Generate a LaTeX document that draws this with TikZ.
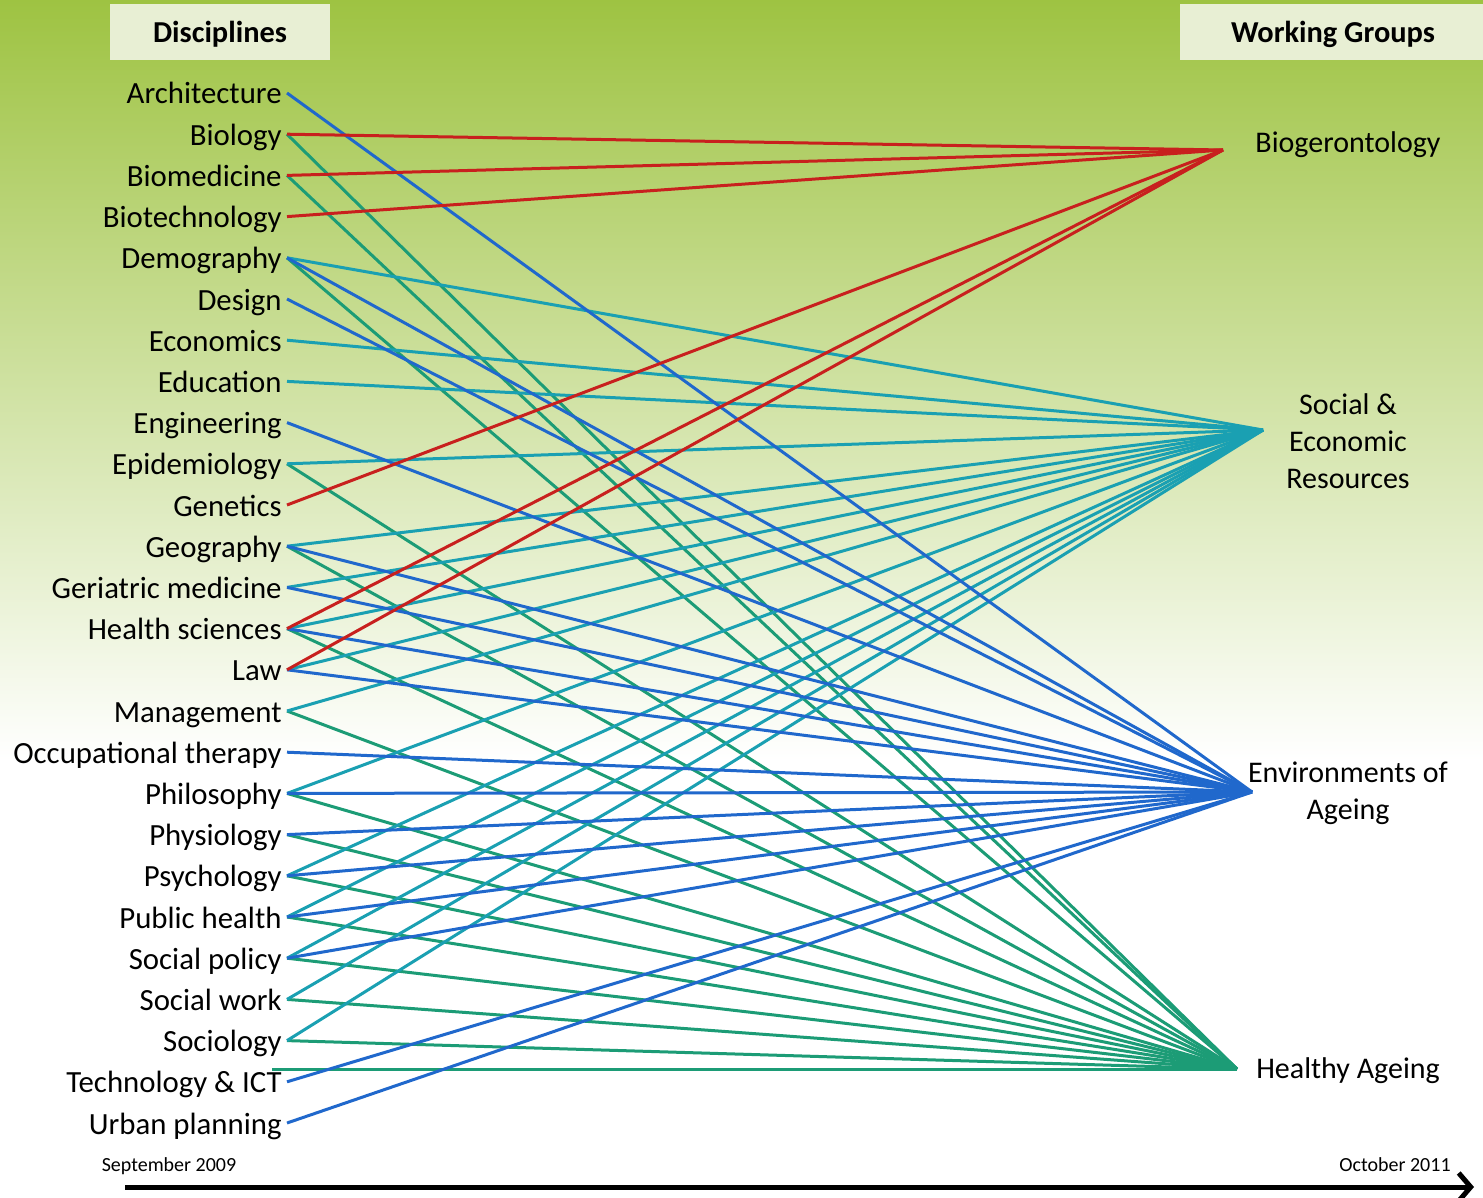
\documentclass[tikz,border=0pt]{standalone}
\usepackage{fontspec}
\setmainfont{Carlito}
\usetikzlibrary{arrows.meta}
\definecolor{cRed}{RGB}{200,32,30}
\definecolor{cBlue}{RGB}{32,104,204}
\definecolor{cTeal}{RGB}{26,160,178}
\definecolor{cGreen}{RGB}{28,156,118}
\definecolor{bgTop}{RGB}{158,195,66}
\definecolor{hdrFill}{RGB}{232,239,212}
\begin{document}
\begin{tikzpicture}[x=0.5pt,y=-0.5pt,
  disc/.style={anchor=east, inner xsep=2.5pt, inner ysep=0pt, text height=14pt, text depth=3pt, font=\fontsize{15.4}{18}\selectfont},
  grp/.style={align=center, font=\fontsize{15}{18.5}\selectfont},
  hdr/.style={fill=hdrFill, minimum height=28pt, font=\bfseries\fontsize{15.2}{18}\selectfont},
  link/.style={line width=1.5pt},
  redl/.style={link, draw=cRed},
  bluel/.style={link, draw=cBlue},
  teall/.style={link, draw=cTeal},
  greenl/.style={link, draw=cGreen},
  datelbl/.style={font=\fontsize{10}{12}\selectfont, anchor=base}]
\useasboundingbox (0,0) rectangle (1483,1198);
\shade[top color=bgTop, bottom color=white] (0,0) rectangle (1483,760);
\fill[white] (0,760) rectangle (1483,1198);
% headers
\fill[hdrFill] (110,4) rectangle (330,60);
\fill[hdrFill] (1180,4) rectangle (1483,60);
\node[font=\bfseries\fontsize{15.2}{18}\selectfont] (hDisc) at (220,34) {Disciplines};
\node[font=\bfseries\fontsize{15.2}{18}\selectfont] (hWork) at (1333,34) {Working Groups};
% disciplines
\foreach \n/\t [count=\i] in {arch/Architecture, biol/Biology, biom/Biomedicine, biot/Biotechnology, demo/Demography, desi/Design, econ/Economics, educ/Education, engi/Engineering, epid/Epidemiology, gene/Genetics, geog/Geography, geri/Geriatric medicine, heal/Health sciences, law/Law, mana/Management, occu/Occupational therapy, phil/Philosophy, phys/Physiology, psyc/Psychology, publ/Public health, spol/Social policy, swor/Social work, soci/Sociology, tech/Technology \& ICT, urba/Urban planning}
  \node[disc] (\n) at (287,{93+41.2*(\i-1)}) {\t};
% working groups
\node[grp] (gBio) at (1348,145) {Biogerontology};
\node[grp] (gSE) at (1348,441) {Social \&\\Economic\\Resources};
\node[grp] (gEnv) at (1348,793) {Environments of\\Ageing};
\node[grp] (gHA) at (1348,1071) {Healthy Ageing};
\coordinate (wBio) at (1223,150);
\coordinate (wSE) at (1263,430);
\coordinate (wEnv) at (1252,792);
\coordinate (wHA) at (1237,1069);
\coordinate (tHA) at (272,1069);
% green links
\foreach \n in {biol,biom,demo,epid,geog,heal,mana,phil,phys,psyc,publ,spol,swor,soci}
  \draw[greenl] (\n.east) -- (wHA);
\draw[greenl] (tHA) -- (wHA);
% teal links
\foreach \n in {demo,econ,educ,epid,geog,geri,heal,law,mana,phil,psyc,publ,spol,swor,soci}
  \draw[teall] (\n.east) -- (wSE);
% blue links
\foreach \n in {arch,demo,desi,engi,geog,geri,heal,law,occu,phil,phys,psyc,publ,spol,tech,urba}
  \draw[bluel] (\n.east) -- (wEnv);
% red links
\foreach \n in {biol,biom,biot,gene,heal,law}
  \draw[redl] (\n.east) -- (wBio);
% time axis
\node[datelbl] (dStart) at (169,1171) {September 2009};
\node[datelbl] (dEnd) at (1395,1171) {October 2011};
\coordinate (aStart) at (125,1187);
\coordinate (aEnd) at (1474,1187);
\draw[line width=2.5pt, -{Straight Barb[length=6pt,width=14pt]}] (aStart) -- (aEnd);
\end{tikzpicture}
\end{document}
